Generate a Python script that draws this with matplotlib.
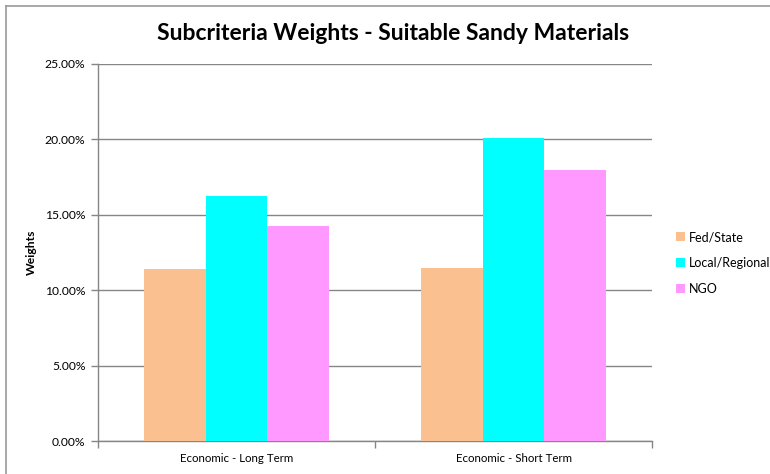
import matplotlib
matplotlib.use("Agg")
import matplotlib.pyplot as plt
from matplotlib.lines import Line2D
from matplotlib.patches import Patch
from matplotlib.ticker import FuncFormatter, FixedLocator

categories = ["Economic - Long Term", "Economic - Short Term"]
series_names = ["Fed/State", "Local/Regional", "NGO"]
fed_state = [0.1139, 0.1150]
local_regional = [0.1626, 0.2007]
ngo = [0.1429, 0.1798]
colors = ["#FAC090", "#00FFFF", "#FF99FF"]

plt.rcParams["font.family"] = ["Lato", "DejaVu Sans"]

W, H = 770, 474
fig = plt.figure(figsize=(W / 100, H / 100), dpi=100)

# outer chart border: only top and left edges fall inside the canvas
border = dict(transform=fig.transFigure, color="#9a9a9a", linewidth=1.2)
fig.lines.append(Line2D([6 / W, 1], [1 - 6 / H, 1 - 6 / H], **border))
fig.lines.append(Line2D([6 / W, 6 / W], [0, 1 - 6 / H], **border))

ax = fig.add_axes([98 / W, (H - 441) / H, (652 - 98) / W, (441 - 64) / H])

width = 1 / 4.5
x = list(range(len(categories)))
for i, (vals, name, c) in enumerate(zip([fed_state, local_regional, ngo], series_names, colors)):
    ax.bar([xi + (i - 1) * width for xi in x], vals, width=width, color=c,
           label=name, zorder=3, linewidth=0)

ax.set_xlim(-0.5, len(categories) - 0.5)
ax.set_ylim(0, 0.25)
ax.yaxis.set_major_locator(FixedLocator([0, 0.05, 0.10, 0.15, 0.20, 0.25]))
ax.yaxis.set_major_formatter(FuncFormatter(lambda v, p: f"{v * 100:.2f}%"))
ax.set_xticks(x)
ax.set_xticklabels(categories)
ax.set_xticks([-0.5, 0.5, 1.5], minor=True)
ax.tick_params(axis="x", which="major", length=0, pad=9, labelsize=8.3)
ax.tick_params(axis="x", which="minor", length=5, color="#868686", width=1)
ax.tick_params(axis="y", length=5, color="#868686", width=1, labelsize=8.7, pad=4)

ax.grid(axis="y", color="#868686", linewidth=1, zorder=0)
for s in ["top", "right"]:
    ax.spines[s].set_visible(False)
for s in ["left", "bottom"]:
    ax.spines[s].set_color("#868686")
    ax.spines[s].set_linewidth(1)

ax.set_ylabel("Weights", fontsize=8.7, fontweight="bold", labelpad=6)

fig.text(393 / W, 1 - 34 / H, "Subcriteria Weights - Suitable Sandy Materials",
         ha="center", va="center", fontsize=16.5, fontweight="bold")

handles = [Patch(facecolor=c, edgecolor="none") for c in colors]
fig.legend(handles, series_names, loc="center left",
           bbox_to_anchor=(671 / W, 1 - 263 / H), frameon=False,
           fontsize=9.0, handlelength=0.75, handleheight=0.75,
           handletextpad=0.3, labelspacing=1.1, borderaxespad=0)

fig.savefig("out.png", dpi=100)
